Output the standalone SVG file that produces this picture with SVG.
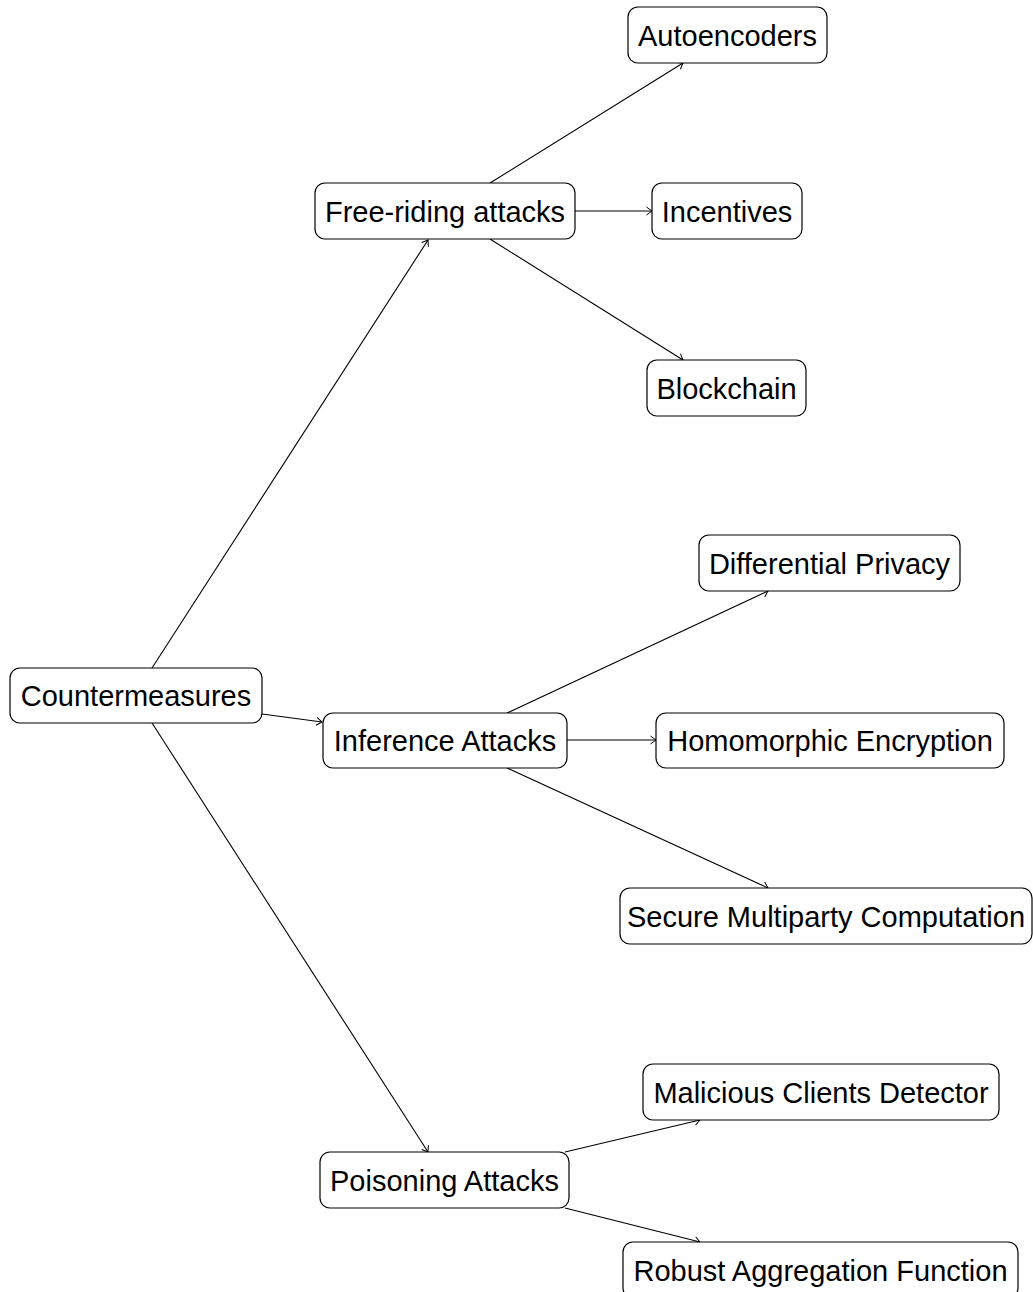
<svg xmlns="http://www.w3.org/2000/svg" width="1033" height="1292" viewBox="0 0 1033 1292">
<style>
.box{fill:#fff;stroke:#000;stroke-width:1.2}
.lbl{font-family:"Liberation Sans",Arial,sans-serif;font-size:29px;fill:#000;text-anchor:middle}
.edge{fill:none;stroke:#000;stroke-width:1.1;marker-end:url(#arr)}
</style>
<defs>
<marker id="arr" markerUnits="userSpaceOnUse" markerWidth="12" markerHeight="12" viewBox="-7 -6 9 12" refX="0" refY="0" orient="auto">
<path d="M -5.5 -4 Q -1.5 -1 0 0 Q -1.5 1 -5.5 4" fill="none" stroke="#000" stroke-width="1"/>
</marker>
</defs>
<rect width="1033" height="1292" fill="#fff"/>
<g id="connectors">
<line class="edge" x1="152" y1="668" x2="428" y2="240"/>
<line class="edge" x1="262" y1="714" x2="322" y2="722"/>
<line class="edge" x1="152" y1="723" x2="428" y2="1152"/>
<line class="edge" x1="490" y1="183" x2="683" y2="63"/>
<line class="edge" x1="575" y1="211" x2="652" y2="211"/>
<line class="edge" x1="490" y1="239" x2="683" y2="360"/>
<line class="edge" x1="507" y1="713" x2="768" y2="591"/>
<line class="edge" x1="567" y1="740" x2="656" y2="740"/>
<line class="edge" x1="507" y1="768" x2="768" y2="888"/>
<line class="edge" x1="565" y1="1152" x2="700" y2="1120"/>
<line class="edge" x1="565" y1="1208" x2="700" y2="1242"/>
</g>
<g id="countermeasures"><rect class="box" x="10" y="668" width="252" height="55" rx="10"/><text class="lbl" x="136" y="705.5">Countermeasures</text></g>
<g id="free-riding"><rect class="box" x="315" y="183" width="260" height="56" rx="10"/><text class="lbl" x="445" y="221.5">Free-riding attacks</text></g>
<g id="autoencoders"><rect class="box" x="628" y="7" width="199" height="56" rx="10"/><text class="lbl" x="727.5" y="45.5">Autoencoders</text></g>
<g id="incentives"><rect class="box" x="652" y="183" width="150" height="56" rx="10"/><text class="lbl" x="727" y="221.5">Incentives</text></g>
<g id="blockchain"><rect class="box" x="647" y="360" width="159" height="56" rx="10"/><text class="lbl" x="726.5" y="398.5">Blockchain</text></g>
<g id="inference"><rect class="box" x="323" y="713" width="244" height="55" rx="10"/><text class="lbl" x="445" y="750.5">Inference Attacks</text></g>
<g id="differential-privacy"><rect class="box" x="699" y="535" width="261" height="56" rx="10"/><text class="lbl" x="829.5" y="573.5">Differential Privacy</text></g>
<g id="homomorphic"><rect class="box" x="656" y="713" width="348" height="55" rx="10"/><text class="lbl" x="830" y="750.5">Homomorphic Encryption</text></g>
<g id="smc"><rect class="box" x="620" y="888" width="412" height="56" rx="10"/><text class="lbl" x="826" y="926.5">Secure Multiparty Computation</text></g>
<g id="poisoning"><rect class="box" x="320" y="1152" width="249" height="56" rx="10"/><text class="lbl" x="444.5" y="1190.5">Poisoning Attacks</text></g>
<g id="malicious"><rect class="box" x="643" y="1064" width="356" height="56" rx="10"/><text class="lbl" x="821" y="1102.5">Malicious Clients Detector</text></g>
<g id="robust"><rect class="box" x="623" y="1242" width="395" height="56" rx="10"/><text class="lbl" x="820.5" y="1280.5">Robust Aggregation Function</text></g>
</svg>
